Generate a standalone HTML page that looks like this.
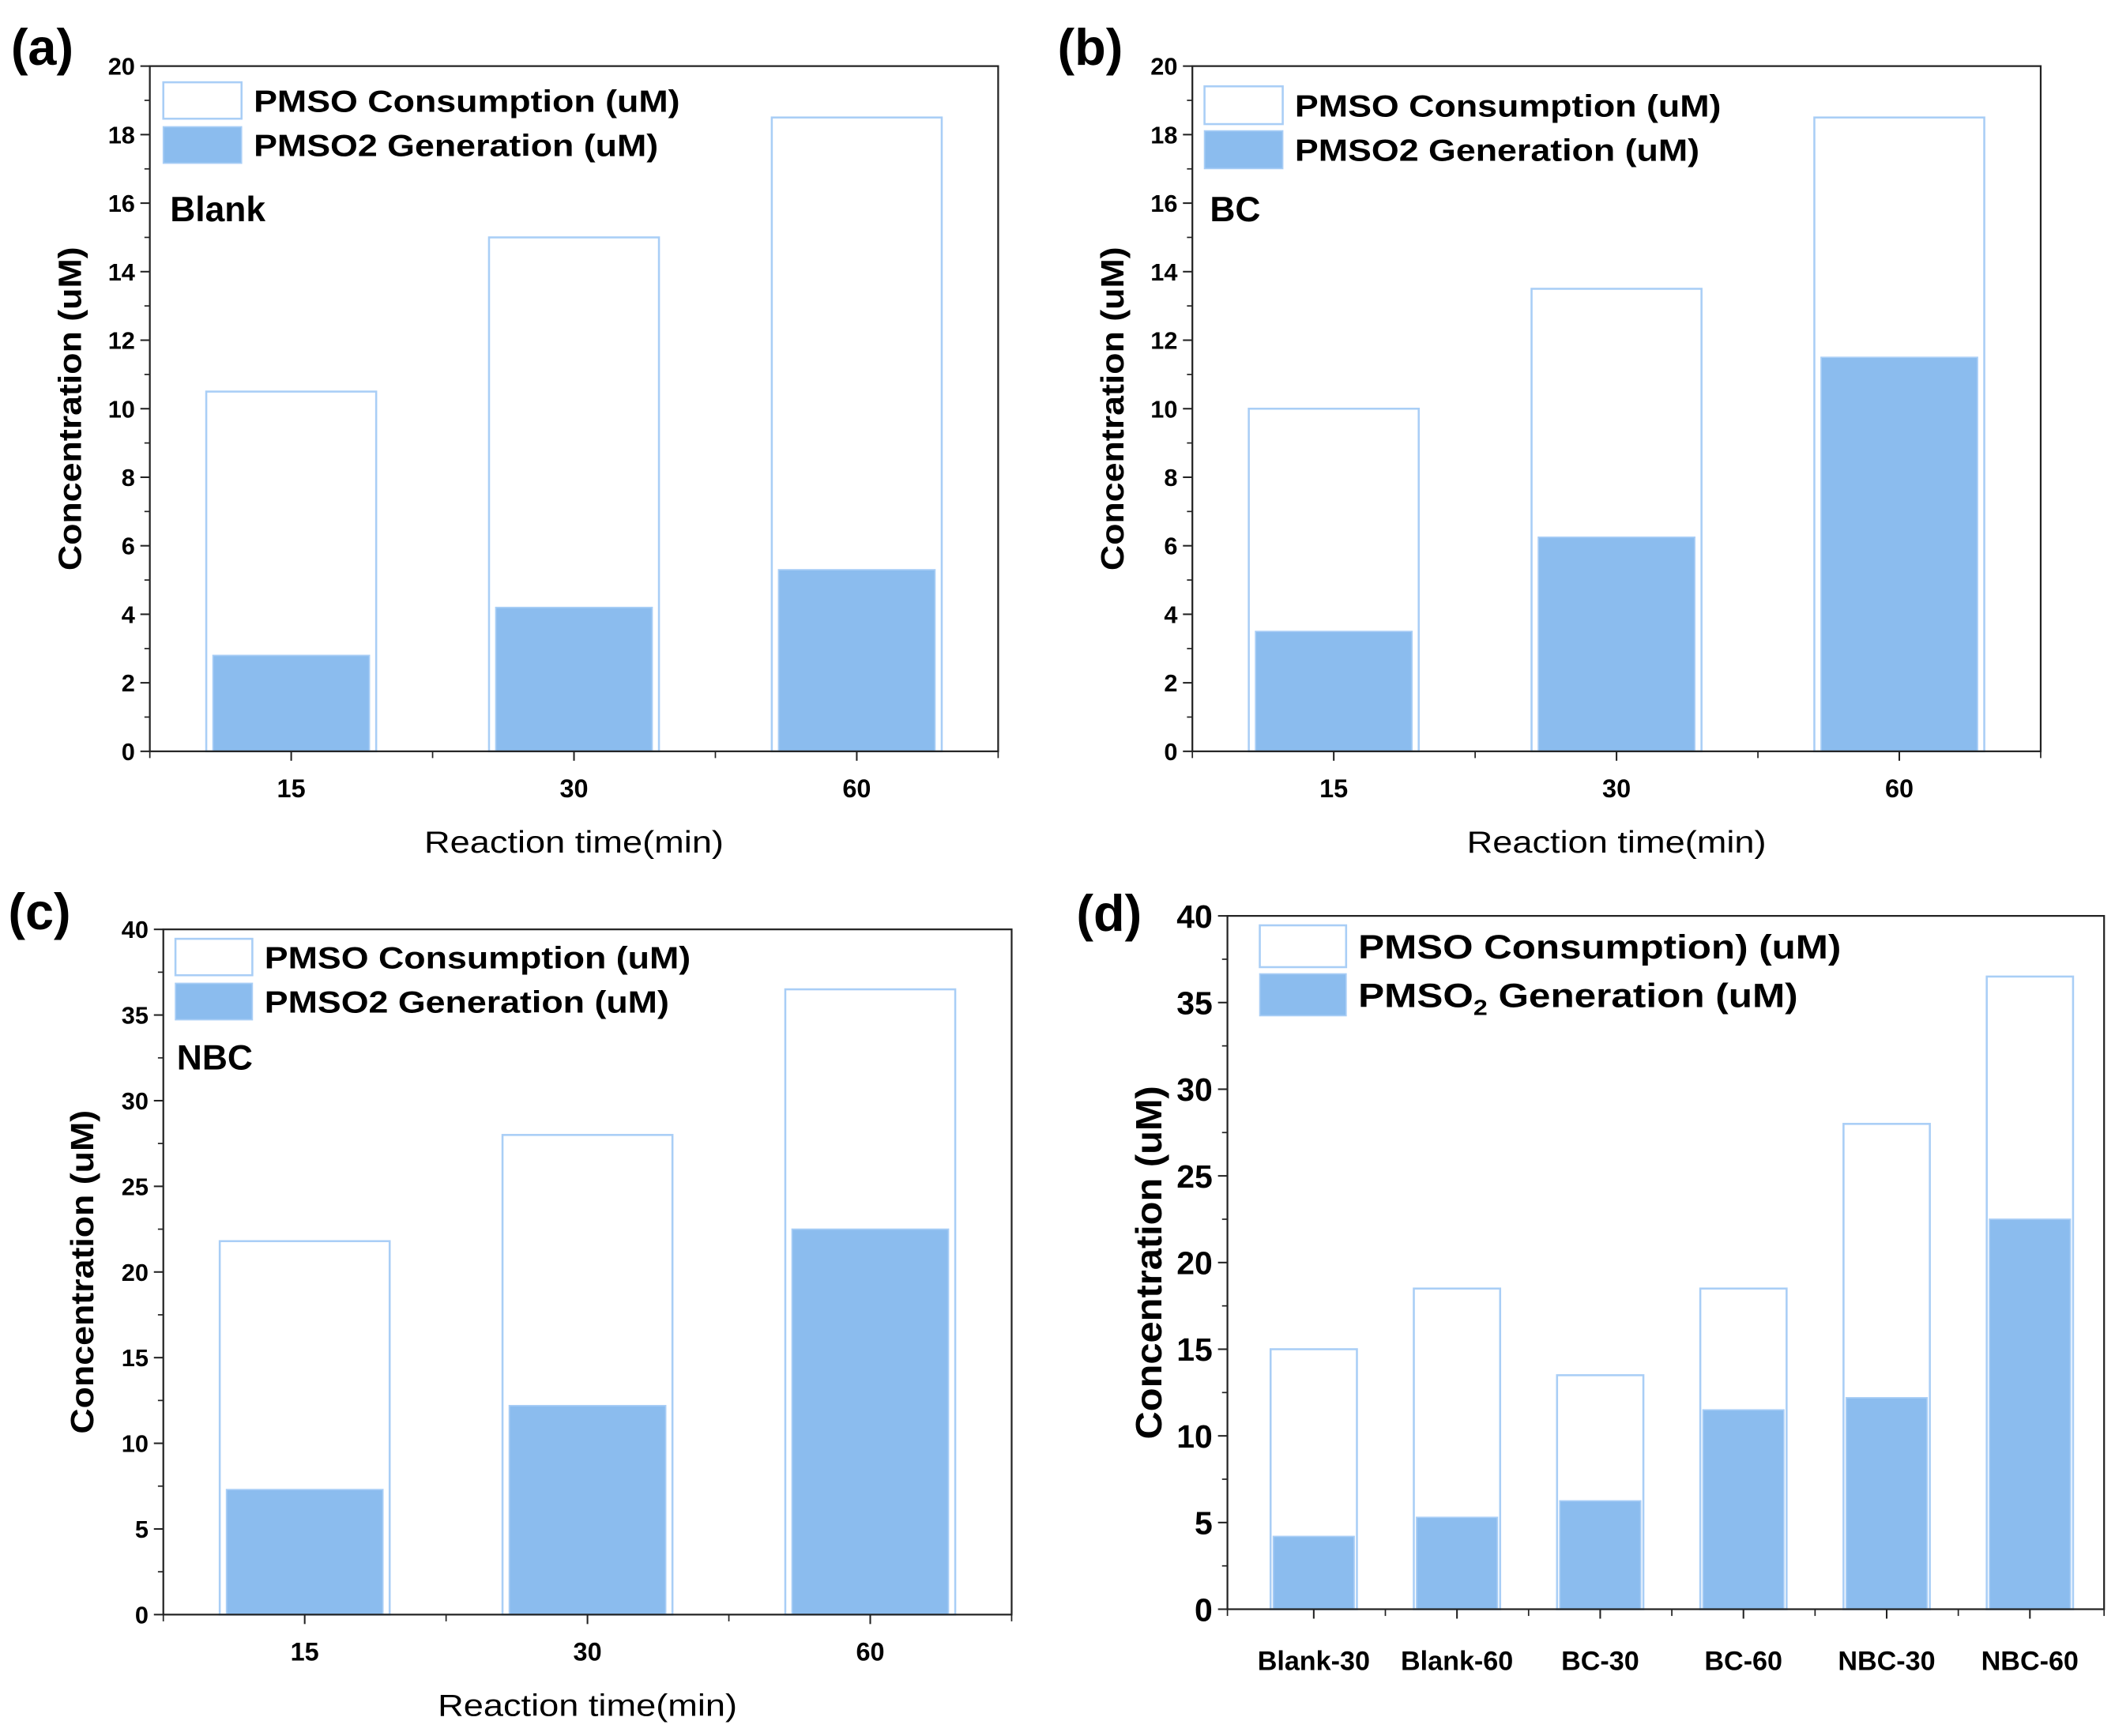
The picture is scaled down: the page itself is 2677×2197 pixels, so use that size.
<!DOCTYPE html>
<html><head><meta charset="utf-8">
<style>
html,body{margin:0;padding:0;background:#fff;}
svg{display:block;font-family:"Liberation Sans",Arial,sans-serif;}
</style></head>
<body>
<svg id="fig" width="2677" height="2197" viewBox="0 0 1568 1287" xmlns="http://www.w3.org/2000/svg"></svg>
<script>
// ---- data ----
const catsTime = ["15", "30", "60"];
const blankConsumption = [10.5, 15, 18.5];
const blankGeneration = [2.8, 4.2, 5.3];
const bcConsumption = [10, 13.5, 18.5];
const bcGeneration = [3.5, 6.25, 11.5];
const nbcConsumption = [21.8, 28, 36.5];
const nbcGeneration = [7.3, 12.2, 22.5];
const catsCompare = ["Blank-30", "Blank-60", "BC-30", "BC-60", "NBC-30", "NBC-60"];
const compareConsumption = [15, 18.5, 13.5, 18.5, 28, 36.5];
const compareGeneration = [4.2, 5.3, 6.25, 11.5, 12.2, 22.5];
const ticks20 = [0, 2, 4, 6, 8, 10, 12, 14, 16, 18, 20];
const ticks40 = [0, 5, 10, 15, 20, 25, 30, 35, 40];

const NS = "http://www.w3.org/2000/svg";
const svg = document.getElementById("fig");
const FILL = "#8bbcee", EDGE = "#a9cef6";

function mk(tag, attrs, parent) {
  const e = document.createElementNS(NS, tag);
  for (const k in attrs) e.setAttribute(k, attrs[k]);
  (parent || svg).appendChild(e);
  return e;
}

function panel(p) {
  const g = mk("g", {});
  
  
  const ymax = p.ticks[p.ticks.length - 1];
  const yS = v => p.b - (v / ymax) * (p.b - p.t);
  const n = p.cats.length;
  const step = p.step || (p.r - p.l) / n;
  const x0 = p.x0 || (p.l + step / 2);
  const xS = i => x0 + step * i;
  p.cats.forEach((c, i) => {
    const ob = mk("rect", {x: xS(i) - p.ow / 2, y: yS(p.cons[i]), width: p.ow, height: p.b - yS(p.cons[i]), fill: "#fff", stroke: EDGE, "stroke-width": 1.5}, g);
    
    
    const fb = mk("rect", {x: xS(i) - p.fw / 2, y: yS(p.gen[i]), width: p.fw, height: p.b - yS(p.gen[i]), fill: FILL, stroke: EDGE, "stroke-width": 1}, g);
    
    
  });
  const fr = mk("rect", {x: p.l, y: p.t, width: p.r - p.l, height: p.b - p.t, fill: "none", stroke: "#222", "stroke-width": 1.3}, g);
  
  
  p.ticks.forEach((v, i) => {
    mk("line", {x1: p.l - 7, x2: p.l, y1: yS(v), y2: yS(v), stroke: "#222", "stroke-width": 1.2}, g);
    if (i < p.ticks.length - 1) {
      const mv = (v + p.ticks[i + 1]) / 2;
      mk("line", {x1: p.l - 4, x2: p.l, y1: yS(mv), y2: yS(mv), stroke: "#222", "stroke-width": 1}, g);
    }
    const t = mk("text", {x: p.l - 11, y: yS(v) + p.tf * 0.36, "text-anchor": "end", "font-size": p.tf, "font-weight": "bold"}, g);
    t.textContent = v;
    
    
  });
  for (let i = 0; i < n - 1; i++) {
    const x = xS(i) + step / 2;
    mk("line", {x1: x, x2: x, y1: p.b, y2: p.b + 5, stroke: "#222", "stroke-width": 1}, g);
  }
  mk("line", {x1: p.l, x2: p.l, y1: p.b, y2: p.b + 5, stroke: "#222", "stroke-width": 1}, g);
  mk("line", {x1: p.r, x2: p.r, y1: p.b, y2: p.b + 5, stroke: "#222", "stroke-width": 1}, g);
  p.cats.forEach((c, i) => {
    mk("line", {x1: xS(i), x2: xS(i), y1: p.b, y2: p.b + 7, stroke: "#222", "stroke-width": 1.2}, g);
    const t = mk("text", {x: xS(i), y: p.xly, "text-anchor": "middle", "font-size": p.xf, "font-weight": "bold"}, g);
    t.textContent = c;
    
    
  });
  const yt = mk("text", {x: 0, y: 0, transform: `translate(${p.ytx},${(p.t + p.b) / 2}) rotate(-90)`, "text-anchor": "middle", "font-size": p.ytf, "font-weight": "bold", textLength: p.ytl, lengthAdjust: "spacingAndGlyphs"}, g);
  yt.textContent = "Concentration (uM)";
  
  
  if (p.xty) {
    const xt = mk("text", {x: (p.l + p.r) / 2, y: p.xty, "text-anchor": "middle", "font-size": 23, textLength: 222, lengthAdjust: "spacingAndGlyphs"}, g);
    xt.textContent = "Reaction time(min)";
    
    
  }
  const L = p.leg;
  const l1 = mk("rect", {x: L.x, y: L.y1, width: L.w, height: L.h, fill: "#fff", stroke: EDGE, "stroke-width": 1.5}, g);
  
  
  const l2 = mk("rect", {x: L.x, y: L.y2, width: L.w, height: L.h, fill: FILL, stroke: EDGE, "stroke-width": 1}, g);
  
  
  const t1 = mk("text", {x: L.tx, y: L.y1 + L.h / 2 + L.f * 0.36, "font-size": L.f, "font-weight": "bold", textLength: L.len1, lengthAdjust: "spacingAndGlyphs"}, g);
  t1.textContent = L.t1;
  
  
  const t2 = mk("text", {x: L.tx, y: L.y2 + L.h / 2 + L.f * 0.36, "font-size": L.f, "font-weight": "bold", textLength: L.len2, lengthAdjust: "spacingAndGlyphs"}, g);
  if (L.sub) {
    t2.innerHTML = 'PMSO<tspan font-size="' + (L.f * 0.65) + '" dy="6">2</tspan><tspan dy="-6"> Generation (uM)</tspan>';
  } else t2.textContent = L.t2;
  
  
  if (p.tag) {
    const tg = mk("text", {x: p.tag.x, y: p.tag.y, "font-size": 26, "font-weight": "bold"}, g);
    tg.textContent = p.tag.t;
    
    
  }
  const pl = mk("text", {x: p.pl.x, y: p.pl.y, "font-size": 38, "font-weight": "bold"}, g);
  pl.textContent = p.pl.t;
  
  
}

const legStd = {t1: "PMSO Consumption (uM)", t2: "PMSO2 Generation (uM)", f: 23, len1: 316, len2: 300};
panel({name: "panel-a-blank", l: 111, r: 740, t: 49, b: 557, ticks: ticks20, cats: catsTime, cons: blankConsumption, gen: blankGeneration,
  ow: 126, fw: 116, tf: 18, xf: 19, xly: 591, ytx: 60, ytf: 24, ytl: 240, xty: 632,
  leg: Object.assign({x: 121, y1: 61, y2: 94, w: 58, h: 27, tx: 188}, legStd),
  tag: {x: 126, y: 164, t: "Blank"}, pl: {x: 8, y: 48, t: "(a)"}});
panel({name: "panel-b-bc", l: 884, r: 1513, t: 49, b: 557, ticks: ticks20, cats: catsTime, cons: bcConsumption, gen: bcGeneration,
  ow: 126, fw: 116, tf: 18, xf: 19, xly: 591, ytx: 833, ytf: 24, ytl: 240, xty: 632,
  leg: Object.assign({x: 893, y1: 64, y2: 97, w: 58, h: 28, tx: 960}, legStd),
  tag: {x: 897, y: 164, t: "BC"}, pl: {x: 784, y: 48, t: "(b)"}});
panel({name: "panel-c-nbc", l: 121, r: 750, t: 689, b: 1197, ticks: ticks40, cats: catsTime, cons: nbcConsumption, gen: nbcGeneration,
  ow: 126, fw: 116, tf: 18, xf: 19, xly: 1231, ytx: 69, ytf: 24, ytl: 240, xty: 1272,
  leg: Object.assign({x: 130, y1: 696, y2: 729, w: 57, h: 27, tx: 196}, legStd),
  tag: {x: 131, y: 793, t: "NBC"}, pl: {x: 6, y: 689, t: "(c)"}});
panel({name: "panel-d-compare", l: 910, r: 1560, t: 679, b: 1193, ticks: ticks40, cats: catsCompare, cons: compareConsumption, gen: compareGeneration,
  x0: 974, step: 106.2,
  ow: 64, fw: 60, tf: 24, xf: 20, xly: 1238, ytx: 861, ytf: 27, ytl: 262, xty: 0,
  leg: {x: 934, y1: 686, y2: 722, w: 64, h: 31, tx: 1007, f: 25, t1: "PMSO Consumption) (uM)", len1: 358, len2: 326, sub: true},
  pl: {x: 798, y: 690, t: "(d)"}});
</script>
</body></html>
